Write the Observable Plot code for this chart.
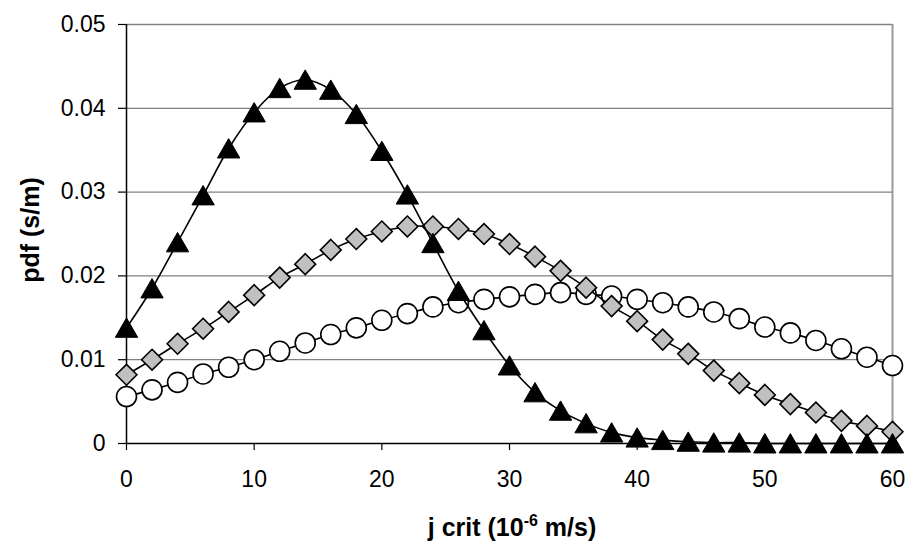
<!DOCTYPE html>
<html>
<head>
<meta charset="utf-8">
<script src="https://cdn.jsdelivr.net/npm/d3@7"></script>
<script src="https://cdn.jsdelivr.net/npm/@observablehq/plot@0.6"></script>
<style>
  html, body { margin: 0; padding: 0; background: #fff; }
  #chart { width: 923px; height: 550px; }
  svg { font-family: "Liberation Sans", Arial, sans-serif; }
</style>
</head>
<body>
<div id="chart"></div>
<script>
const jcrit = [0,2,4,6,8,10,12,14,16,18,20,22,24,26,28,30,32,34,36,38,40,42,44,46,48,50,52,54,56,58,60];
const triangleSeries = [0.0138,0.0185,0.0240,0.0296,0.0352,0.0395,0.0424,0.0434,0.0422,0.0393,0.0349,0.0297,0.0239,0.0182,0.0135,0.0093,0.0061,0.0039,0.0024,0.0013,0.0007,0.0004,0.0002,0.0001,0.0001,0,0,0,0,0,0];
const diamondSeries = [0.0082,0.0100,0.0119,0.0137,0.0157,0.0177,0.0198,0.0214,0.0231,0.0244,0.0253,0.0259,0.0259,0.0256,0.0250,0.0238,0.0223,0.0206,0.0186,0.0164,0.0146,0.0124,0.0107,0.0087,0.0072,0.0058,0.0047,0.0037,0.0027,0.0021,0.0014];
const circleSeries = [0.0056,0.0064,0.0073,0.0083,0.0091,0.0100,0.0110,0.0120,0.0130,0.0138,0.0147,0.0155,0.0163,0.0168,0.0172,0.0175,0.0178,0.0180,0.0178,0.0176,0.0172,0.0168,0.0163,0.0157,0.0149,0.0139,0.0132,0.0123,0.0113,0.0103,0.0093];
const xTicks = [0,10,20,30,40,50,60];
const yTicks = [0,0.01,0.02,0.03,0.04,0.05];
const yTickLabels = ["0","0.01","0.02","0.03","0.04","0.05"];

const rows = (vals) => jcrit.map((x, i) => ({x, y: vals[i]}));
const tri = rows(triangleSeries), dia = rows(diamondSeries), cir = rows(circleSeries);
const yFmt = d => yTickLabels[yTicks.findIndex(t => Math.abs(t - d) < 1e-9)];

const plot = Plot.plot({
  width: 923,
  height: 550,
  marginLeft: 126,
  marginRight: 31,
  marginTop: 24,
  marginBottom: 107,
  style: {fontFamily: "'Liberation Sans', Arial, sans-serif", fontSize: "23px", color: "#000", background: "#fff"},
  x: {domain: [0, 60], label: null},
  y: {domain: [0, 0.05], label: null},
  marks: [
    Plot.ruleY(yTicks.filter(d => d > 0), {stroke: "#808080", strokeWidth: 1.3}),
    Plot.ruleX([60], {stroke: "#999", strokeWidth: 2}),
    Plot.axisX({ticks: xTicks, tickSize: 7, tickPadding: 20, fontSize: 23, tickFormat: d => String(d), label: null, strokeWidth: 1.2}),
    Plot.axisY({ticks: yTicks, tickSize: 8, tickPadding: 13, fontSize: 23, label: null, tickFormat: yFmt, strokeWidth: 1.2}),
    Plot.ruleY([0], {stroke: "#000", strokeWidth: 1.5}),
    Plot.ruleX([0], {stroke: "#000", strokeWidth: 1.5}),
    // circles series
    Plot.line(cir, {x: "x", y: "y", curve: "catmull-rom", stroke: "#000", strokeWidth: 1.6}),
    Plot.dot(cir, {x: "x", y: "y", symbol: "circle", r: 10, fill: "#fff", stroke: "#000", strokeWidth: 1.6}),
    // diamonds series
    Plot.line(dia, {x: "x", y: "y", curve: "catmull-rom", stroke: "#000", strokeWidth: 1.6}),
    Plot.dot(dia, {x: "x", y: "y", symbol: "diamond2", r: 9.4, fill: "#c0c0c0", stroke: "#000", strokeWidth: 1.6}),
    // triangles series
    Plot.line(tri, {x: "x", y: "y", curve: "catmull-rom", stroke: "#000", strokeWidth: 1.6}),
    Plot.dot(tri, {x: "x", y: "y", symbol: "triangle", r: 8.3, dy: 3, fill: "#000", stroke: "#000", strokeWidth: 1})
  ]
});

const svg = d3.select(plot);
svg.selectAll("text").attr("fill", "#000");
// Axis titles
svg.append("text")
  .attr("transform", "translate(32,230) rotate(-90)")
  .attr("text-anchor", "middle").attr("dominant-baseline", "middle")
  .attr("font-weight", "bold").attr("font-size", 25)
  .text("pdf (s/m)");
const xt = svg.append("text")
  .attr("x", 512).attr("y", 536)
  .attr("text-anchor", "middle")
  .attr("font-weight", "bold").attr("font-size", 25);
xt.append("tspan").text("j crit (10");
xt.append("tspan").attr("dy", -10).attr("font-size", 16).text("-6");
xt.append("tspan").attr("dy", 10).text(" m/s)");

document.getElementById("chart").appendChild(plot);
</script>
</body>
</html>
